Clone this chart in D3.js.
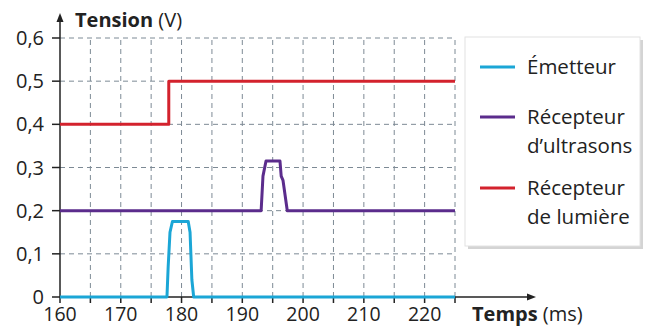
<!DOCTYPE html>
<html>
<head>
<meta charset="utf-8">
<script src="https://cdn.jsdelivr.net/npm/d3@7"></script>
<style>
  body { margin: 0; background: #fff; }
  text { font-family: "Open Sans", "Noto Sans", sans-serif; fill: #222; }
</style>
</head>
<body>
<svg id="chart" width="652" height="328"></svg>
<script>
const xTicks = [160, 170, 180, 190, 200, 210, 220];
const yTicks = [0, 0.1, 0.2, 0.3, 0.4, 0.5, 0.6];

// signals: [time ms, tension V]
const emetteur = [[160, 0], [177.6, 0], [177.8, 0.07], [178.1, 0.15], [178.5, 0.175], [181.1, 0.175],
  [181.4, 0.15], [181.7, 0.04], [182, 0], [225, 0]];
const ultrasons = [[160, 0.2], [193.1, 0.2], [193.4, 0.28], [193.9, 0.315], [196.2, 0.315],
  [196.4, 0.28], [196.7, 0.27], [197.4, 0.2], [225, 0.2]];
const lumiere = [[160, 0.4], [177.9, 0.4], [177.9, 0.5], [225, 0.5]];

const series = [
  {name: ['Émetteur'], color: '#1ba6d6', data: emetteur},
  {name: ['Récepteur', 'd’ultrasons'], color: '#5b2c8c', data: ultrasons},
  {name: ['Récepteur', 'de lumière'], color: '#d3222d', data: lumiere}
];

const svg = d3.select('#chart');

const x = d3.scaleLinear().domain([160, 225]).range([60, 455]);
const y = d3.scaleLinear().domain([0, 0.6]).range([297, 38]);

const fmt = d => d === 0 ? '0' : d3.format('.1f')(d).replace('.', ',');

// grid
const grid = svg.append('g')
    .attr('stroke', '#7d8a95')
    .attr('stroke-width', 1)
    .attr('stroke-dasharray', '5,4');

grid.selectAll('line.v')
  .data(d3.range(165, 226, 5))
  .join('line')
    .attr('x1', d => x(d)).attr('x2', d => x(d))
    .attr('y1', y(0)).attr('y2', y(0.6));

grid.selectAll('line.h')
  .data(yTicks.slice(1))
  .join('line')
    .attr('x1', x(160)).attr('x2', x(225))
    .attr('y1', d => y(d)).attr('y2', d => y(d));

// axes
const axes = svg.append('g').attr('stroke', '#222').attr('stroke-width', 1.5);
axes.append('line').attr('x1', x(160)).attr('x2', x(160)).attr('y1', y(0)).attr('y2', 20);
axes.append('line').attr('x1', x(160)).attr('x2', 528).attr('y1', y(0)).attr('y2', y(0));

svg.append('path')
    .attr('d', `M${x(160)},13 L${x(160) - 3.5},22 L${x(160) + 3.5},22 Z`)
    .attr('fill', '#222');
svg.append('path')
    .attr('d', `M536,${y(0)} L527,${y(0) - 3.5} L527,${y(0) + 3.5} Z`)
    .attr('fill', '#222');

axes.selectAll('line.xt')
  .data(d3.range(160, 226, 5))
  .join('line')
    .attr('x1', d => x(d)).attr('x2', d => x(d))
    .attr('y1', y(0)).attr('y2', y(0) + 6);

axes.selectAll('line.yt')
  .data(yTicks)
  .join('line')
    .attr('x1', x(160) - 8).attr('x2', x(160))
    .attr('y1', d => y(d)).attr('y2', d => y(d));

svg.append('g')
    .attr('font-size', 19.5)
    .attr('text-anchor', 'middle')
  .selectAll('text')
  .data(xTicks)
  .join('text')
    .attr('x', d => x(d))
    .attr('y', 321)
    .text(d => d);

svg.append('g')
    .attr('font-size', 20)
    .attr('text-anchor', 'end')
  .selectAll('text')
  .data(yTicks)
  .join('text')
    .attr('x', 44)
    .attr('y', d => y(d) + 7)
    .text(fmt);

const yTitle = svg.append('text').attr('x', 75).attr('y', 27).attr('font-size', 20);
yTitle.append('tspan').attr('font-weight', 'bold').text('Tension');
yTitle.append('tspan').text(' (V)');

const xTitle = svg.append('text').attr('x', 472).attr('y', 321).attr('font-size', 20);
xTitle.append('tspan').attr('font-weight', 'bold').text('Temps');
xTitle.append('tspan').text(' (ms)');

// signals
const line = d3.line().x(d => x(d[0])).y(d => y(d[1]));

svg.append('g')
    .attr('fill', 'none')
    .attr('stroke-width', 3)
    .attr('stroke-linejoin', 'round')
  .selectAll('path')
  .data(series)
  .join('path')
    .attr('stroke', d => d.color)
    .attr('d', d => line(d.data));

// legend
const legend = svg.append('g');
legend.append('rect')
    .attr('x', 468).attr('y', 40).attr('width', 175).attr('height', 209)
    .attr('fill', '#d4d4d4');
legend.append('rect')
    .attr('x', 465).attr('y', 37).attr('width', 175).attr('height', 209)
    .attr('fill', '#fff')
    .attr('stroke', '#e2e2e2');

const legendY = [67, 117, 188];
const item = legend.selectAll('g')
  .data(series)
  .join('g')
    .attr('transform', (d, i) => `translate(0,${legendY[i]})`);

item.append('line')
    .attr('x1', 480).attr('x2', 515)
    .attr('stroke', d => d.color)
    .attr('stroke-width', 3);

item.append('text')
    .attr('font-size', 20.5)
  .selectAll('tspan')
  .data(d => d.name)
  .join('tspan')
    .attr('x', 527)
    .attr('y', (d, i) => 7 + i * 29)
    .text(d => d);
</script>
</body>
</html>
